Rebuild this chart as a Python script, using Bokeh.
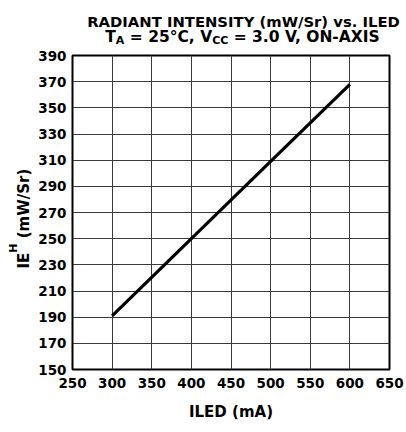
import math
from bokeh.plotting import figure
from bokeh.models import FixedTicker, Range1d
from bokeh.core.properties import value
from bokeh.embed import file_html
from bokeh.resources import INLINE

# ---- data ----
iled_ma = [300, 400, 500, 600]
intensity_mw_sr = [191, 250, 309, 368]
x_ticks = [250, 300, 350, 400, 450, 500, 550, 600, 650]
y_ticks = [150, 170, 190, 210, 230, 250, 270, 290, 310, 330, 350, 370, 390]
title_line1 = "RADIANT INTENSITY (mW/Sr) vs. ILED"
title_line2 = [("T", False), ("A", True), (" = 25°C, V", False), ("CC", True), (" = 3.0 V, ON-AXIS", False)]
x_label = "ILED (mA)"
y_label = [("IE", False), ("H", True), (" (mW/Sr)", False)]

FONT = "DejaVu Sans"
TITLE1_PX = 14.8
TITLE2_PX = 15.5
SUB_PX = 11
TICK_PX = 13.5
AXLABEL_PX = 15

W, H = 406, 432
FL, FR, FT, FB = 72, 389, 55, 369   # frame edges in page pixels

_W = {" ": .348, "(": .457, ")": .457, ",": .380, "-": .415, ".": .380, "/": .365,
      "=": .838, "°": .500, "A": .774, "C": .734, "D": .830, "E": .683, "H": .837,
      "I": .372, "L": .637, "N": .837, "O": .850, "R": .770, "S": .720, "T": .682,
      "V": .774, "W": 1.103, "X": .774, "Y": .724, "m": 1.042, "r": .493, "s": .595,
      "v": .652}


def text_w(s, px):
    return sum(_W.get(c, .696) for c in s) * px


x0, x1 = x_ticks[0], x_ticks[-1]
y0, y1 = y_ticks[0], y_ticks[-1]


def dx(px):  # page x -> data x
    return x0 + (px - FL) * (x1 - x0) / (FR - FL)


def dy(py):  # page y -> data y
    return y0 + (FB - py) * (y1 - y0) / (FB - FT)


p = figure(width=W, height=H, output_backend="svg", toolbar_location=None,
           x_range=Range1d(x0, x1), y_range=Range1d(y0, y1),
           min_border_left=FL, min_border_right=W - FR, min_border_top=FT, min_border_bottom=H - FB)
p.background_fill_color = "white"
p.border_fill_color = "white"
p.outline_line_color = "black"
p.outline_line_width = 2

p.line(iled_ma, intensity_mw_sr, line_color="black", line_width=3.2)

for ax in (p.xaxis[0], p.yaxis[0]):
    ax.axis_line_color = None
    ax.major_tick_line_color = None
    ax.minor_tick_line_color = None
    ax.major_tick_out = 0
    ax.major_tick_in = 0
    ax.minor_tick_out = 0
    ax.minor_tick_in = 0
    ax.major_label_text_font = FONT
    ax.major_label_text_font_style = "bold"
    ax.major_label_text_font_size = f"{TICK_PX}px"
    ax.major_label_text_color = "black"

p.xaxis.ticker = FixedTicker(ticks=x_ticks)
p.yaxis.ticker = FixedTicker(ticks=y_ticks)
p.xaxis.major_label_standoff = 8
p.yaxis.major_label_standoff = 6
p.xaxis.axis_label = x_label
p.xaxis.axis_label_text_font = FONT
p.xaxis.axis_label_text_font_style = "bold"
p.xaxis.axis_label_text_font_size = f"{AXLABEL_PX}px"
p.xaxis.axis_label_text_color = "black"
p.xaxis.axis_label_standoff = 12

p.xgrid.ticker = FixedTicker(ticks=x_ticks)
p.ygrid.ticker = FixedTicker(ticks=y_ticks)
p.grid.grid_line_color = "#3a3a3a"
p.grid.grid_line_width = 1


def put(s, px_x, px_y, size, align="left", angle=0.0):
    p.text(x=[dx(px_x)], y=[dy(px_y)], text=[s], text_font=value(FONT),
           text_font_style="bold", text_font_size=value(f"{size}px"), text_color="black",
           text_align=align, text_baseline="alphabetic", angle=angle, level="overlay")


TITLE_CX = 243

# title line 1
put(title_line1, TITLE_CX, 20.7, TITLE1_PX, align="center")

# title line 2 with subscripts (leading spaces become explicit offsets)
total = sum(text_w(s, SUB_PX if sub else TITLE2_PX) for s, sub in title_line2)
x = TITLE_CX - total / 2
for s, sub in title_line2:
    size = SUB_PX if sub else TITLE2_PX
    body = s.lstrip()
    x += text_w(s[:len(s) - len(body)], size)
    put(body, x, 39.5 if sub else 36.7, size)
    x += text_w(body, size)

# rotated y axis label with superscript
yy = 268
for s, sup in y_label:
    size = SUB_PX if sup else AXLABEL_PX
    body = s.lstrip()
    yy -= text_w(s[:len(s) - len(body)], size)
    put(body, 12.5 if sup else 23, yy, size, angle=math.pi / 2)
    yy -= text_w(body, size)

open("out.html", "w").write(file_html(p, INLINE))
